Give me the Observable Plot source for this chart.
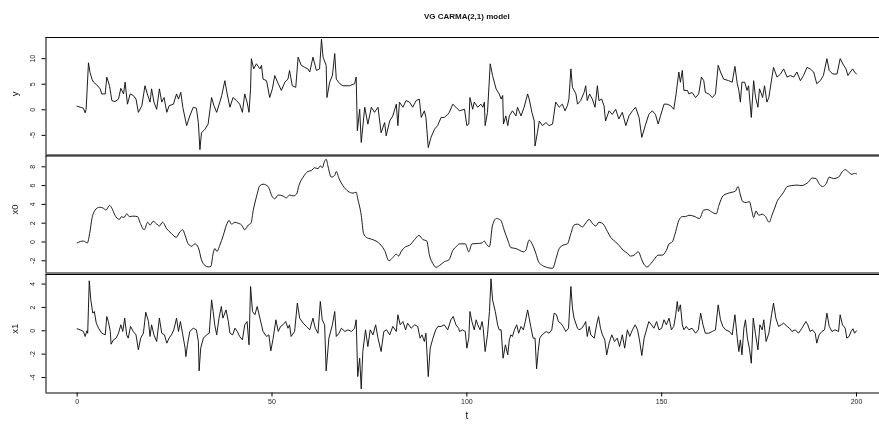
<!DOCTYPE html>
<html><head><meta charset="utf-8">
<script src="https://cdn.jsdelivr.net/npm/d3@7"></script>
<script src="https://cdn.jsdelivr.net/npm/@observablehq/plot@0.6"></script>
<style>
html,body{margin:0;padding:0;background:#fff;overflow:hidden;}
#chart svg{display:block;will-change:transform;}
</style></head><body><div id="chart"></div>
<script>
// ---- data ----
const title = "VG CARMA(2,1) model";
const xLabel = "t";
const xTicks = [0, 50, 100, 150, 200];

const tY = [0,0.8,1.6,2.05,2.3,2.9,3.3,3.8,4.2,5.0,5.9,6.3,7.2,7.6,8.3,8.9,9.7,10.6,11.2,11.9,12.3,12.9,13.6,14.4,15.1,15.7,16.6,17.4,18.0,18.7,19.1,19.7,20.4,21.1,21.7,22.3,23.0,23.6,24.7,25.5,26.0,26.6,27.1,28.1,28.9,29.8,30.6,31.1,31.5,31.9,32.8,33.6,34.5,35.1,35.8,36.6,37.1,37.9,38.5,39.2,40.0,40.9,41.7,42.4,43.0,43.6,44.1,44.5,44.7,45.3,46.0,46.9,47.3,47.7,48.6,49.4,50.1,50.7,51.6,52.4,53.3,54.1,54.5,55.2,56.1,56.7,57.5,58.4,59.2,59.7,60.5,61.4,62.2,62.7,63.1,63.9,64.1,64.8,65.5,66.1,66.5,67.4,68.2,69.9,71.2,71.6,71.9,72.5,72.9,73.8,74.6,75.5,76.3,77.2,78.0,78.9,79.3,80.2,81.0,81.9,82.3,82.7,83.6,84.4,85.3,86.1,87.0,87.8,88.3,89.1,89.5,90.1,90.8,91.7,92.5,93.4,94.2,95.1,95.5,96.4,97.2,
98.1,99.4,100.0,100.5,100.8,101.5,101.9,102.8,103.6,104.1,104.5,104.7,105.3,106.0,106.6,107.5,108.3,108.8,109.2,109.4,110.0,110.5,110.9,111.7,112.6,113.0,113.9,114.7,115.6,116.0,116.7,117.3,117.5,118.1,118.6,119.4,120.3,121.1,122.0,122.8,123.7,124.5,125.2,125.8,126.2,126.7,127.1,128.0,128.4,129.2,130.1,130.5,130.9,131.5,132.2,132.9,133.5,133.9,134.6,135.2,135.6,136.5,137.3,138.2,139.0,139.9,140.8,141.6,142.5,143.3,144.2,144.9,145.9,146.7,147.6,148.4,149.1,149.7,150.6,151.4,152.3,153.1,153.7,154.4,154.8,155.3,155.7,156.6,157.0,157.8,158.7,159.5,160.2,160.8,161.2,162.1,163.0,163.8,164.5,165.1,165.9,167.2,168.1,168.8,169.4,169.8,170.2,170.6,171.3,171.9,172.3,173.0,173.6,174.1,174.7,175.1,175.6,175.9,176.4,177.0,177.5,178.1,178.7,179.6,180.5,181.3,182.2,183.0,183.9,184.7,185.6,186.4,187.3,188.1,189.0,189.8,190.7,191.5,192.4,193.0,193.9,195.0,195.8,196.7,197.3,197.8,198.4,199.0,199.5,200];
const y = [0.7,0.5,0.3,-0.6,0.1,9.2,7.3,6.0,5.4,4.9,4.1,3.1,3.1,6.4,4.7,1.8,1.6,2.1,4.2,3.1,5.4,1.1,3.1,2.8,2.1,-0.5,0.8,4.7,3.1,1.5,4.1,1.5,0.1,4.1,1.5,2.4,-0.5,0.8,1.1,3.1,2.1,3.4,0.5,-3.1,-1.2,0.5,0.3,-2.5,-7.8,-4.5,-3.8,-2.8,2.4,0.8,-0.5,1.5,2.8,5.7,3.1,0.5,2.4,1.8,1.1,-0.5,3.1,1.5,-0.5,4.1,10.0,8.0,9.0,8.0,8.7,6.0,5.7,2.4,4.1,6.7,5.1,3.8,5.4,6.0,7.7,4.7,4.4,10.3,8.7,8.3,8.0,7.4,10.3,7.7,8.0,13.8,10.3,8.7,2.4,5.4,6.7,11.0,6.0,5.1,4.7,4.7,5.1,6.4,-4.1,0.1,-6.4,0.5,-2.8,0.5,-0.5,0.5,-4.5,-2.5,-5.1,-2.2,-1.2,1.1,-3.1,1.5,0.5,1.8,1.5,0.5,1.8,2.1,-1.5,-0.2,-1.5,-7.4,-5.4,-3.8,-3.1,-1.5,-1.5,-0.9,-0.5,1.1,0.5,
-0.2,0.1,-3.1,-2.8,2.4,0.1,1.5,0.5,1.1,0.5,1.5,-3.1,-0.5,9.0,6.7,4.1,3.1,2.1,2.8,-2.8,-1.2,-3.1,-1.2,-0.2,-1.2,0.5,-1.2,0.5,3.1,2.1,-0.5,-2.2,-7.1,-4.5,-2.2,-3.1,-2.5,-3.1,-2.8,1.5,0.5,1.1,-0.2,0.8,2.1,8.0,4.4,3.1,1.1,1.8,3.4,4.7,1.8,3.1,2.1,0.5,4.7,1.8,2.1,0.8,-2.2,-0.2,-0.9,0.1,-1.8,-0.5,-3.1,-1.2,-0.2,0.5,-1.5,-5.4,-2.8,-0.9,-0.2,-0.9,-2.8,-1.2,1.1,1.1,0.8,0.1,3.1,7.4,5.4,7.7,3.8,3.8,3.1,3.4,2.4,3.1,6.4,5.7,3.4,3.1,2.4,3.1,8.7,7.4,6.0,5.7,5.4,8.5,5.1,3.8,1.5,5.4,5.4,3.8,4.7,-1.5,5.7,2.4,0.5,4.1,3.1,2.4,4.7,1.5,2.4,5.4,8.3,6.4,7.0,8.0,6.4,6.7,6.4,7.4,5.7,6.7,8.3,8.0,7.4,5.1,5.7,6.7,10.0,7.7,7.0,7.0,10.0,8.7,8.0,6.7,7.4,8.0,7.4,7.0];

const tX0 = [0,0.8,1.6,2.6,3.2,3.8,4.6,5.7,6.7,7.4,8.3,8.9,9.7,10.8,11.4,12.0,12.7,13.4,14.3,15.5,16.1,17.2,18.1,18.7,19.5,20.2,21.1,21.9,23.0,24.2,25.4,26.4,27.1,27.7,28.5,29.4,30.2,31.1,31.9,32.8,33.6,34.3,34.9,35.3,35.9,36.6,37.5,38.3,39.0,39.6,40.5,41.3,42.2,43.0,43.9,44.6,45.2,46.0,46.9,47.7,49.0,50.1,50.7,51.6,52.8,53.7,54.5,55.4,56.3,56.9,58.0,59.2,60.1,60.9,61.8,62.4,62.9,63.5,63.9,64.4,65.2,66.1,66.5,67.2,68.2,69.5,70.8,71.6,72.0,72.9,73.5,74.2,75.5,76.7,78.0,78.9,80.0,81.0,81.9,82.5,83.1,84.3,85.3,86.6,87.7,88.7,89.7,90.4,91.3,92.1,93.0,94.2,95.4,96.4,97.4,
98.1,99.6,100.5,101.3,102.8,103.9,104.5,104.9,105.8,106.6,107.6,108.7,109.6,110.5,111.3,112.6,113.6,114.5,115.1,116.0,116.9,117.7,118.4,119.4,120.7,122.0,123.0,123.7,124.7,125.8,126.7,127.5,128.4,129.7,130.3,131.4,132.2,133.1,133.9,135.0,136.1,136.9,138.2,139.0,140.1,141.2,142.0,142.9,144.0,144.9,145.5,146.3,147.2,148.0,149.1,150.1,151.2,151.9,152.7,153.6,154.4,155.3,156.1,157.0,158.3,159.7,160.8,161.7,162.8,164.0,164.7,165.7,166.8,168.1,168.9,169.6,170.2,170.8,171.7,172.5,173.2,173.6,174.2,174.9,175.8,176.6,177.6,178.3,179.0,179.6,180.4,181.3,182.2,183.4,184.7,186.0,186.9,187.7,188.6,189.6,190.4,191.3,192.2,193.0,194.1,195.4,196.3,197.1,197.9,198.8,199.5,200];
const x0 = [-0.1,0.05,0.1,-0.1,0.9,2.5,3.4,3.7,3.6,3.4,3.9,3.6,2.85,2.4,2.7,2.6,3.0,2.7,2.75,2.7,2.1,1.3,2.1,1.8,2.2,2.0,1.7,2.1,1.4,0.9,0.5,1.1,1.3,0.7,-0.2,-0.45,-0.2,-0.6,-1.9,-2.5,-2.65,-2.6,-1.2,-0.7,-1.0,-0.35,0.7,1.8,2.3,1.9,2.1,2.0,1.8,1.3,1.8,2.0,3.4,4.8,6.0,6.15,5.9,4.8,4.6,5.0,4.9,4.7,5.0,4.9,5.1,6.0,6.9,7.5,7.6,7.9,7.8,8.1,7.9,8.6,8.8,8.0,6.9,7.1,7.5,6.75,6.0,5.4,5.2,5.3,4.6,2.85,0.9,0.5,0.3,0.1,-0.35,-0.9,-2.0,-1.65,-1.3,-1.5,-1.05,-0.5,-0.35,0.26,0.7,0.26,0.12,-1.4,-2.3,-2.7,-2.5,-2.1,-1.9,-0.9,-0.45,
-0.2,-0.2,-1.05,-0.2,-0.16,-0.1,0.1,-0.16,-0.5,1.8,2.5,2.3,1.25,0.2,-0.6,-0.7,-0.9,-1.05,-0.9,0.2,-0.34,-1.2,-2.1,-2.5,-2.72,-2.8,-1.6,-0.7,-0.34,-0.2,0.9,1.8,1.9,1.6,1.9,2.4,2.0,1.7,2.1,1.9,1.1,0.5,0.0,-0.34,-0.87,-1.2,-1.5,-1.4,-1.05,-1.9,-2.4,-2.65,-2.3,-1.9,-1.4,-1.4,-0.9,-0.2,0.0,1.1,2.3,2.7,2.7,2.85,2.74,2.5,3.4,3.45,3.2,3.0,3.9,4.9,5.15,5.3,5.4,5.9,5.0,4.3,4.2,4.3,3.2,2.6,3.3,2.85,2.95,2.74,2.1,2.85,3.6,4.3,4.8,5.3,5.9,6.0,6.05,6.0,6.15,6.4,6.8,6.75,6.2,5.9,6.2,6.9,6.75,6.9,7.46,7.7,7.46,7.2,7.3,7.25];

const tX1 = [0,0.8,1.6,2.05,2.5,2.7,3.1,3.5,4.0,4.4,4.9,5.5,6.3,7.2,7.6,8.0,8.5,8.7,9.3,10.0,10.6,11.2,11.7,12.2,12.7,13.1,13.7,14.4,15.1,15.7,16.3,17.0,17.6,18.3,18.7,19.1,19.7,20.4,21.1,21.7,22.4,23.0,23.6,24.2,24.8,25.5,26.0,26.5,27.1,27.7,27.9,28.3,28.9,29.8,30.6,31.1,31.3,31.7,32.4,33.2,33.9,34.5,34.9,35.3,35.8,36.4,37.0,37.4,38.2,38.8,39.2,39.9,40.5,41.1,41.7,42.4,43.0,43.6,44.1,44.5,45.0,45.6,46.2,46.9,47.7,48.6,49.2,49.7,50.3,51.0,51.6,52.2,52.8,53.5,54.1,54.5,54.9,55.8,56.5,57.1,58.0,58.8,59.7,60.5,61.1,61.8,62.4,62.9,63.5,63.9,64.6,65.5,66.1,66.5,67.2,67.8,68.7,69.5,70.4,71.2,71.6,72.0,72.5,72.9,73.3,74.0,74.6,75.2,75.9,76.6,77.2,78.0,78.7,79.4,80.2,81.0,81.9,82.3,82.9,83.6,84.3,84.8,85.7,86.6,87.4,88.0,88.5,89.1,89.5,90.1,90.6,91.3,92.0,92.6,93.4,94.2,95.1,95.9,96.5,97.2,97.9,
98.1,98.9,99.6,100.0,100.5,100.8,101.3,101.9,102.4,102.8,103.4,103.9,104.2,104.7,105.3,105.8,106.2,106.6,107.3,107.9,108.3,108.8,109.3,109.9,110.5,110.9,111.3,111.7,112.2,112.8,113.3,113.9,114.5,115.0,115.6,116.0,116.4,117.0,117.5,117.9,118.3,118.7,119.3,119.8,120.4,121.1,121.8,122.4,123.0,123.5,124.1,124.7,125.4,126.1,126.7,127.1,127.5,128.4,128.8,129.5,130.1,130.5,130.9,131.4,131.8,132.7,133.3,133.8,134.3,134.8,135.4,135.9,136.5,137.2,137.9,138.6,139.2,139.9,140.5,141.2,141.8,142.5,143.2,143.8,144.3,144.9,145.5,146.1,146.7,147.4,148.0,148.7,149.3,150.0,150.6,151.2,151.9,152.5,153.1,153.6,154.0,154.3,154.8,155.3,155.7,156.3,157.0,157.8,158.7,159.4,160.0,160.6,161.2,162.1,163.0,163.8,164.5,165.1,165.7,166.4,167.4,168.1,168.8,169.4,169.8,170.2,170.6,171.1,171.5,172.0,172.5,173.0,173.5,174.1,174.7,175.2,175.8,176.2,176.8,177.5,178.2,178.7,179.3,180.0,180.7,181.3,182.2,182.8,183.4,184.3,185.1,186.0,187.0,187.5,188.1,188.7,189.4,189.8,190.4,191.1,191.8,192.4,193.0,193.7,194.5,195.4,195.8,196.4,197.1,197.5,198.1,198.6,199.1,199.5,200];
const x1 = [0.17,0.08,-0.06,-0.49,0.0,-0.21,4.28,2.65,1.51,1.65,0.65,0.22,-0.21,-0.35,1.22,0.79,-0.06,-1.15,-0.78,-0.63,-0.21,0.51,-0.06,1.08,-0.35,-0.63,0.37,-0.06,-0.35,-1.63,-0.63,-0.21,1.59,0.79,-0.49,0.51,-0.35,-0.92,1.08,-0.21,-0.35,-1.06,-0.63,-0.35,0.08,1.08,-0.06,0.79,-0.35,-1.49,-2.21,-1.2,-0.06,0.22,0.08,-0.92,-3.43,-1.49,-0.63,-0.35,-0.21,2.65,1.65,0.51,-0.35,1.08,2.08,1.08,1.79,0.79,-0.21,-0.35,0.22,-0.06,-0.49,-0.78,0.51,0.79,-1.2,3.79,1.65,1.37,2.08,1.08,-0.06,-0.49,-0.35,-1.72,-0.63,0.94,-0.06,0.37,0.51,0.79,0.22,0.51,-0.49,-0.06,2.37,1.08,0.65,0.37,0.08,1.08,0.22,-0.21,2.51,0.94,0.51,-3.43,-0.63,0.51,1.65,-0.49,-0.21,0.22,-0.06,0.08,-0.06,0.22,0.94,-3.92,-2.35,-4.98,-1.78,0.08,-1.35,0.08,-0.35,0.51,-0.63,-1.78,-0.06,0.08,-0.35,0.37,-0.06,1.37,0.51,0.79,0.08,0.65,0.22,0.51,0.37,-0.63,-0.35,-0.92,-0.21,-3.92,-1.49,-0.63,0.08,0.37,0.37,0.51,0.08,0.94,1.22,0.51,0.22,
-0.06,0.08,-0.06,-1.49,-0.63,1.65,0.79,0.08,0.94,0.51,0.08,0.79,0.22,-1.78,-0.35,1.65,4.45,2.65,1.65,0.51,0.08,0.08,-2.35,-1.2,-2.06,-0.78,-0.35,-0.49,0.08,0.51,-0.21,0.37,0.08,0.79,1.79,1.08,0.37,-0.63,-0.63,-3.26,-1.78,-0.63,-0.35,-0.21,-0.06,-0.21,0.08,1.51,1.37,0.79,0.65,0.37,-0.06,0.22,3.79,1.94,1.08,0.22,0.08,0.22,0.51,0.79,-0.49,0.37,-0.35,-0.63,0.51,1.22,0.22,-0.35,-0.78,-2.06,-1.06,-0.35,-0.92,-0.63,-1.35,-0.35,-1.49,0.08,-0.49,0.08,0.51,0.08,-0.78,-2.12,-0.63,0.08,0.79,0.51,0.22,0.79,0.08,0.22,0.94,0.51,1.08,0.08,0.37,1.37,2.51,1.65,2.22,0.51,0.08,0.37,0.08,0.22,-0.21,0.08,1.51,0.51,-0.21,-0.21,-0.06,0.08,2.22,0.94,0.37,0.08,-0.06,-0.35,1.37,-0.63,-1.78,-0.78,-2.06,0.22,0.94,-0.63,-1.49,-2.78,1.08,-0.35,-1.63,0.51,0.08,0.94,-0.92,-0.21,1.37,2.37,1.08,0.37,0.51,0.65,0.37,0.22,-0.06,0.08,-0.21,0.22,0.79,0.51,-0.06,0.08,-0.21,-1.06,-0.35,-0.06,0.08,1.51,0.37,-0.06,0.08,-0.06,1.37,0.51,0.22,-0.63,-0.49,-0.06,0.17,-0.21,0.0];

const yTicks = [-5, 0, 5, 10];
const x0Ticks = [-2, 0, 2, 4, 6, 8];
const x1Ticks = [-4, -2, 0, 2, 4];

// ---- layout ----
const FONT = "'Liberation Sans', Arial, Helvetica, sans-serif";
const W = 879;
const xDomain = [-8, 205.9];
const ML = 45.5;

function panel(opts) {
  const {t, v, domain, ticks, label, height, marginTop, marginBottom, showX, showTitle, curve} = opts;
  const data = t.map((d, i) => ({t: d, v: v[i]}));
  const marks = [
    Plot.line(data, {x: "t", y: "v", stroke: "#111", strokeWidth: 0.95, curve: curve || "linear"}),
    Plot.ruleX([xDomain[0]], {stroke: "#000", strokeWidth: 1}),
    Plot.ruleY([domain[0], domain[1]], {stroke: "#000", strokeWidth: 1.1}),
    Plot.axisY({ticks, tickSize: 4, tickFormat: () => "", label: null, stroke: "#000"}),
    Plot.text(ticks, {y: d => d, text: d => String(d), frameAnchor: "left", dx: -13, rotate: -90,
      fontSize: 7, textAnchor: "middle", fill: "#222"}),
    Plot.text([label], {text: d => d, frameAnchor: "left", dx: -31.5, rotate: -90, fontSize: 9.5, fill: "#111"})
  ];
  if (showX) {
    marks.push(Plot.axisX({ticks: xTicks, tickSize: 4, tickPadding: 2, fontSize: 7, label: null, stroke: "#000", fill: "#222"}));
    marks.push(Plot.text([xLabel], {x: 100, text: d => d, frameAnchor: "bottom", dy: 25.5, fontSize: 10, fill: "#111"}));
  }
  if (showTitle) {
    marks.push(Plot.text([title], {x: 100, text: d => d, frameAnchor: "top", dy: -24, fontSize: 8, fontWeight: "bold", fill: "#111"}));
  }
  return Plot.plot({
    width: W, height, marginLeft: ML, marginRight: 0, marginTop, marginBottom,
    x: {domain: xDomain, axis: null},
    y: {domain, axis: null},
    style: {fontFamily: FONT, background: "transparent", overflow: "visible"},
    marks
  });
}

const chart = document.getElementById("chart");
chart.append(panel({t: tY, v: y, domain: [-8.85, 14.15], ticks: yTicks, label: "y",
  height: 155, marginTop: 37, marginBottom: 0.5, showTitle: true}));
chart.append(panel({t: tX0, v: x0, domain: [-3.3, 9.15], ticks: x0Ticks, label: "x0",
  height: 118, marginTop: 0.5, marginBottom: 0.5, curve: "monotone-x"}));
chart.append(panel({t: tX1, v: x1, domain: [-5.33, 4.82], ticks: x1Ticks, label: "x1",
  height: 155, marginTop: 1, marginBottom: 35.5, showX: true}));
</script></body></html>
